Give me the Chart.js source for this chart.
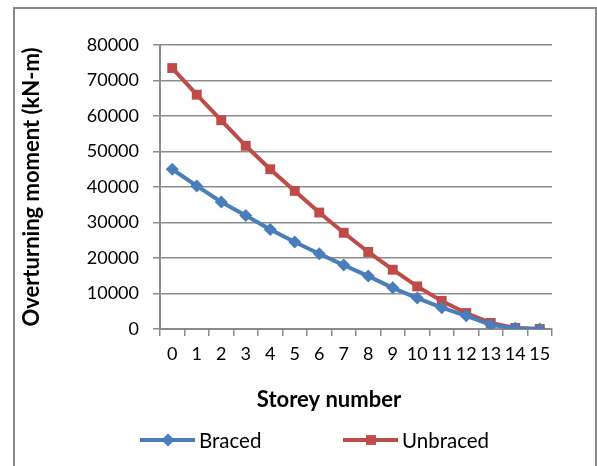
<!DOCTYPE html>
<html>
<head>
<meta charset="utf-8">
<title>Overturning moment per storey</title>
<script src="https://cdn.jsdelivr.net/npm/chart.js@4.4.1/dist/chart.umd.min.js"></script>
<style>
  html, body { margin: 0; padding: 0; background: #fff; }
  #wrap { position: relative; width: 597px; height: 466px; }
</style>
</head>
<body>
<div id="wrap"><canvas id="chart"></canvas></div>
<script>
// Storey numbers along the x axis
const storeys = ['0','1','2','3','4','5','6','7','8','9','10','11','12','13','14','15'];
// Overturning moment (kN-m) at each storey
const braced   = [45000, 40300, 35800, 32000, 28000, 24500, 21200, 18000, 14900, 11600, 8700, 6000, 3700, 1200, 200, 0];
const unbraced = [73500, 66000, 58800, 51600, 45000, 38900, 32800, 27100, 21700, 16700, 12000, 7900, 4500, 1700, 300, 0];
// Y axis range
const yMin = 0, yMax = 80000, yStep = 10000;
const xTitle = 'Storey number';
const yTitle = 'Overturning moment (kN-m)';

const FONT = 'Lato, "Open Sans", sans-serif';
const BLUE = '#4a7ebb';
const RED = '#be4b48';
const GRID = '#8c8c8c';

// White page with a grey frame around the chart
const framePlugin = {
  id: 'frame',
  beforeDraw(chart) {
    const ctx = chart.ctx;
    ctx.save();
    ctx.fillStyle = '#fff';
    ctx.fillRect(0, 0, chart.width, chart.height);
    ctx.strokeStyle = '#8a8a8a';
    ctx.lineWidth = 2;
    ctx.beginPath();
    ctx.moveTo(14, chart.height + 2);
    ctx.lineTo(14, 8);
    ctx.lineTo(596, 8);
    ctx.lineTo(596, chart.height + 2);
    ctx.stroke();
    ctx.restore();
  }
};

// X axis title (centred on the chart frame) and a legend of line samples with markers
const bottomText = {
  id: 'bottomText',
  afterDraw(chart) {
    const ctx = chart.ctx;
    ctx.save();
    ctx.fillStyle = '#000';
    ctx.font = 'bold 22px ' + FONT;
    ctx.textAlign = 'center';
    ctx.textBaseline = 'middle';
    ctx.fillText(xTitle, 329, 400);

    const items = [{ x: 140, ds: 0 }, { x: 343, ds: 1 }];
    const y = 440;
    items.forEach(it => {
      const ds = chart.data.datasets[it.ds];
      ctx.strokeStyle = ds.borderColor;
      ctx.lineWidth = ds.borderWidth;
      ctx.beginPath();
      ctx.moveTo(it.x, y);
      ctx.lineTo(it.x + 55, y);
      ctx.stroke();
      ctx.fillStyle = ds.pointBackgroundColor;
      Chart.helpers.drawPoint(ctx, {
        pointStyle: ds.pointStyle, radius: ds.pointRadius, rotation: 0, borderWidth: 0
      }, it.x + 28, y);
      ctx.fillStyle = '#000';
      ctx.font = '20.5px ' + FONT;
      ctx.textBaseline = 'middle';
      ctx.textAlign = 'left';
      ctx.fillText(ds.label, it.x + 59, y + 1);
    });
    ctx.restore();
  }
};

new Chart(document.getElementById('chart'), {
  type: 'line',
  data: {
    labels: storeys,
    datasets: [
      {
        label: 'Braced', data: braced,
        borderColor: BLUE, backgroundColor: BLUE,
        pointBackgroundColor: BLUE, pointBorderColor: BLUE,
        borderWidth: 4, pointStyle: 'rectRot', pointRadius: 6.5, pointBorderWidth: 0,
        tension: 0
      },
      {
        label: 'Unbraced', data: unbraced,
        borderColor: RED, backgroundColor: RED,
        pointBackgroundColor: RED, pointBorderColor: RED,
        borderWidth: 4, pointStyle: 'rect', pointRadius: 7, pointBorderWidth: 0,
        tension: 0
      }
    ]
  },
  options: {
    responsive: true,
    maintainAspectRatio: false,
    animation: false,
    layout: { padding: { top: 45, right: 45, bottom: 0, left: 0 } },
    plugins: {
      legend: { display: false },
      tooltip: { enabled: false }
    },
    scales: {
      x: {
        type: 'category',
        offset: true,
        afterFit(scale) { scale.height = 137; },
        grid: {
          offset: true, drawOnChartArea: false, drawTicks: true,
          tickLength: 7, color: GRID, lineWidth: 1.5
        },
        border: { display: true, color: GRID, width: 2 },
        ticks: {
          color: '#000', font: { family: FONT, size: 18 }, padding: 7,
          maxRotation: 0, autoSkip: false
        }
      },
      y: {
        min: yMin, max: yMax,
        afterFit(scale) { scale.width = 160; },
        grid: {
          color: GRID, lineWidth: 1.5, drawTicks: true, tickLength: 7
        },
        border: { display: true, color: GRID, width: 2 },
        ticks: {
          stepSize: yStep, color: '#000', font: { family: FONT, size: 18 }, padding: 14,
          callback: v => String(v)
        },
        title: {
          display: true, text: yTitle, color: '#000',
          font: { family: FONT, size: 22, weight: 'bold' },
          padding: { top: 19, bottom: 0 }
        }
      }
    }
  },
  plugins: [framePlugin, bottomText]
});
</script>
</body>
</html>
